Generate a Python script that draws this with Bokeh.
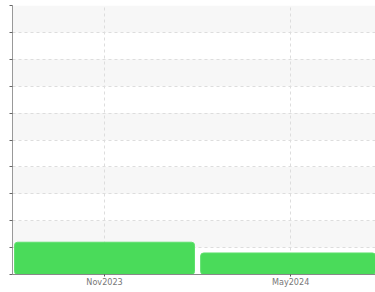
from datetime import datetime, timedelta
from bokeh.plotting import figure
from bokeh.models import FixedTicker, Range1d, DatetimeTickFormatter, CustomJSTickFormatter
from bokeh.embed import file_html
from bokeh.resources import INLINE

# data
periods = [datetime(2023, 11, 1), datetime(2024, 5, 1)]
values = [12, 8]
y_ticks = [-10, 0, 10, 20, 30, 40, 50, 60, 70, 80, 90, 100]
x_tick_dates = [datetime(2023, 11, 1), datetime(2024, 5, 1)]

def ms(d):
    return (d - datetime(1970, 1, 1)).total_seconds() * 1000

x_start = datetime(2023, 11, 1) - timedelta(days=90)
x_end = datetime(2024, 5, 1) + timedelta(days=83)

p = figure(width=375, height=289, x_axis_type="datetime",
           x_range=Range1d(x_start, x_end), y_range=Range1d(0, 100),
           output_backend="svg", toolbar_location=None,
           min_border_left=12, min_border_right=0, min_border_top=5, min_border_bottom=0)
p.outline_line_color = None
p.background_fill_color = "white"
p.border_fill_color = "white"

bar_width = 176 * 24 * 3600 * 1000
p.vbar(x=periods, top=values, bottom=0, width=bar_width,
       fill_color="#4adb5a", line_color="#5ee06c", line_width=1, border_radius=3)

# y axis
p.yaxis.ticker = FixedTicker(ticks=y_ticks)
p.yaxis.formatter = CustomJSTickFormatter(code="return ''")
p.yaxis.major_label_standoff = 0
p.yaxis.major_tick_in = 0
p.yaxis.major_tick_out = 3
p.yaxis.major_tick_line_color = "#666666"
p.yaxis.minor_tick_line_color = None
p.yaxis.axis_line_color = "#999999"
p.yaxis.axis_line_width = 1

# x axis
p.xaxis.ticker = FixedTicker(ticks=[ms(d) for d in x_tick_dates])
p.xaxis.formatter = DatetimeTickFormatter(days="%b%Y", months="%b%Y", years="%b%Y")
p.xaxis.major_label_text_font = "DejaVu Sans Condensed"
p.xaxis.major_label_text_font_size = "9px"
p.xaxis.major_label_text_color = "#777777"
p.xaxis.major_label_standoff = 0
p.xaxis.major_tick_in = 0
p.xaxis.major_tick_out = 2
p.xaxis.major_tick_line_color = "#555555"
p.xaxis.minor_tick_line_color = None
p.xaxis.axis_line_color = "#888888"

# grids
p.ygrid.ticker = FixedTicker(ticks=y_ticks)
p.ygrid.grid_line_color = "#dddddd"
p.ygrid.grid_line_dash = "3 3"
p.ygrid.band_fill_color = "#f7f7f7"
p.ygrid.band_fill_alpha = 1
p.ygrid.level = "image"
p.xgrid.grid_line_color = "#dddddd"
p.xgrid.grid_line_dash = "3 3"
p.xgrid.level = "underlay"

open("out.html", "w").write(file_html(p, INLINE))
